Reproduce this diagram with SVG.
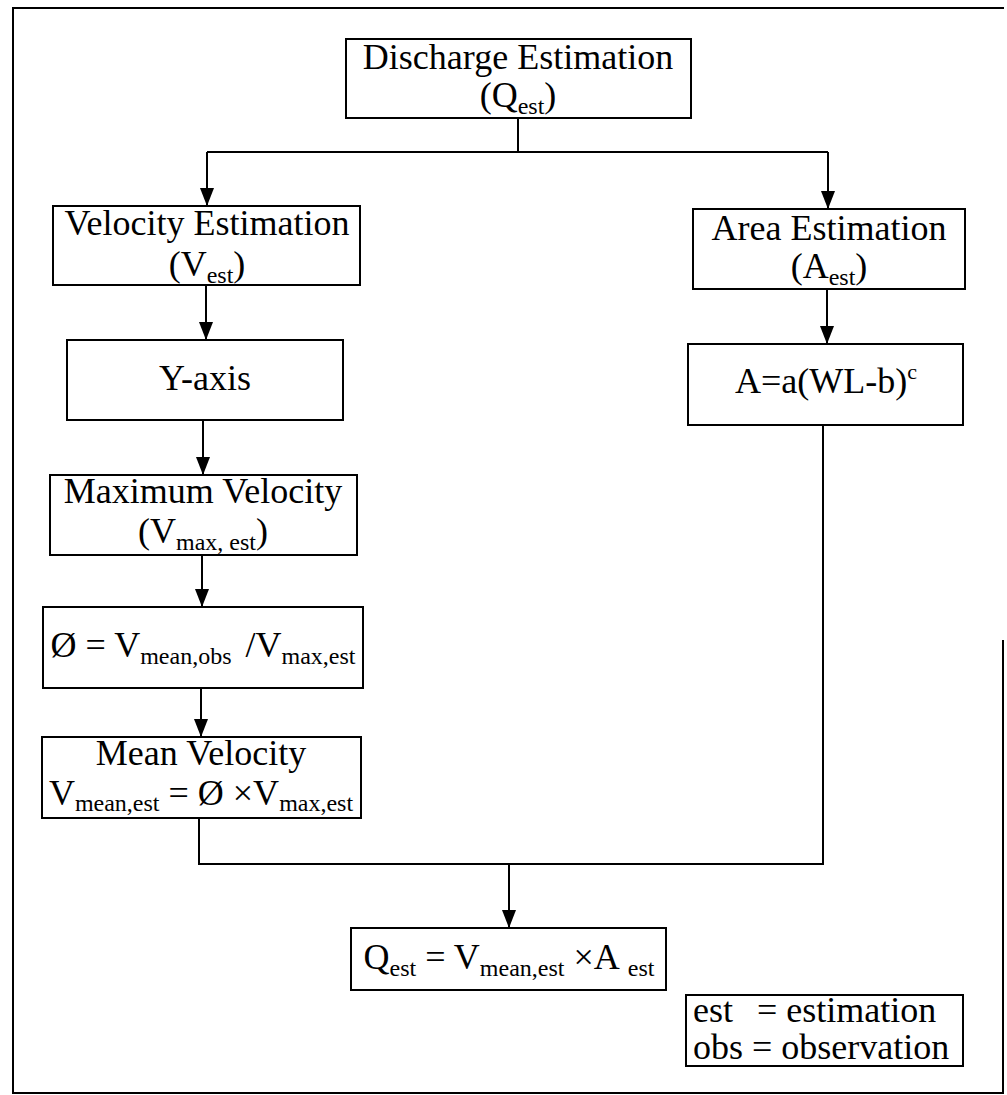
<svg xmlns="http://www.w3.org/2000/svg" width="1007" height="1095" viewBox="0 0 1007 1095">
<style>
.box{fill:#fff;stroke:#000;stroke-width:2}
.t{font-family:"Liberation Serif","Times New Roman",serif;font-size:36px;fill:#000}
.m{text-anchor:middle}
.s{font-size:24px}
.conn{fill:none;stroke:#000;stroke-width:2}
.arr{fill:none;stroke:#000;stroke-width:2;marker-end:url(#ah)}
</style>
<defs>
<marker id="ah" markerUnits="userSpaceOnUse" markerWidth="18" markerHeight="14" refX="18" refY="7" orient="auto" viewBox="0 0 18 14">
<path d="M0,0 L18,7 L0,14 Z" fill="#000"/>
</marker>
</defs>
<rect width="1007" height="1095" fill="#fff"/>
<path id="frame" class="conn" d="M1003,640 V1093 H13 V8 H1004"/>

<g id="connectors">
<path class="conn" d="M518,118 V152 M207,152 H828"/>
<path class="arr" d="M207,152 V206"/>
<path class="arr" d="M828,152 V209"/>
<path class="arr" d="M206,285 V340"/>
<path class="arr" d="M203,420 V475"/>
<path class="arr" d="M202,555 V607"/>
<path class="arr" d="M201,688 V737"/>
<path class="arr" d="M827,289 V344"/>
<path class="conn" d="M199,818 V864 H823 V425"/>
<path class="arr" d="M509,864 V928"/>
</g>

<g id="n-discharge">
<rect class="box" x="346" y="39" width="345" height="79"/>
<text class="t m" x="518" y="69">Discharge Estimation</text>
<text class="t m" x="518" y="107">(Q<tspan class="s" dy="7">est</tspan><tspan dy="-7">)</tspan></text>
</g>

<g id="n-velocity">
<rect class="box" x="53" y="206" width="307" height="79"/>
<text class="t m" x="207" y="235">Velocity Estimation</text>
<text class="t m" x="207" y="276">(V<tspan class="s" dy="7">est</tspan><tspan dy="-7">)</tspan></text>
</g>

<g id="n-yaxis">
<rect class="box" x="67" y="340" width="276" height="80"/>
<text class="t m" x="205" y="390">Y-axis</text>
</g>

<g id="n-maxvel">
<rect class="box" x="50" y="475" width="307" height="80"/>
<text class="t m" x="203" y="503">Maximum Velocity</text>
<text class="t m" x="203" y="543">(V<tspan class="s" dy="7">max, est</tspan><tspan dy="-7">)</tspan></text>
</g>

<g id="n-phi">
<rect class="box" x="43" y="607" width="320" height="81"/>
<text class="t m" x="203" y="657">Ø = V<tspan class="s" dy="7">mean,obs</tspan><tspan dx="14" dy="-7">/V</tspan><tspan class="s" dy="7">max,est</tspan></text>
</g>

<g id="n-meanvel">
<rect class="box" x="42" y="737" width="319" height="81"/>
<text class="t m" x="201" y="765">Mean Velocity</text>
<text class="t m" x="201" y="805">V<tspan class="s" dy="6">mean,est</tspan><tspan dy="-6"> = Ø ×V</tspan><tspan class="s" dy="6">max,est</tspan></text>
</g>

<g id="n-area">
<rect class="box" x="693" y="209" width="272" height="80"/>
<text class="t m" x="829" y="240">Area Estimation</text>
<text class="t m" x="829" y="278">(A<tspan class="s" dy="7">est</tspan><tspan dy="-7">)</tspan></text>
</g>

<g id="n-areaeq">
<rect class="box" x="688" y="344" width="275" height="81"/>
<text class="t m" x="826" y="393">A=a(WL-b)<tspan font-size="22" dy="-14">c</tspan></text>
</g>

<g id="n-discharge-eq">
<rect class="box" x="351" y="928" width="315" height="62"/>
<text class="t m" x="509" y="969">Q<tspan class="s" dy="7">est</tspan><tspan dy="-7"> = V</tspan><tspan class="s" dy="7">mean,est</tspan><tspan dy="-7"> ×A</tspan><tspan class="s" dx="8" dy="7">est</tspan></text>
</g>

<g id="n-legend">
<rect class="box" x="686" y="995" width="277" height="71"/>
<text class="t" x="693" y="1022">est</text>
<text class="t" x="757" y="1022">= estimation</text>
<text class="t" x="693" y="1059">obs = observation</text>
</g>
</svg>
